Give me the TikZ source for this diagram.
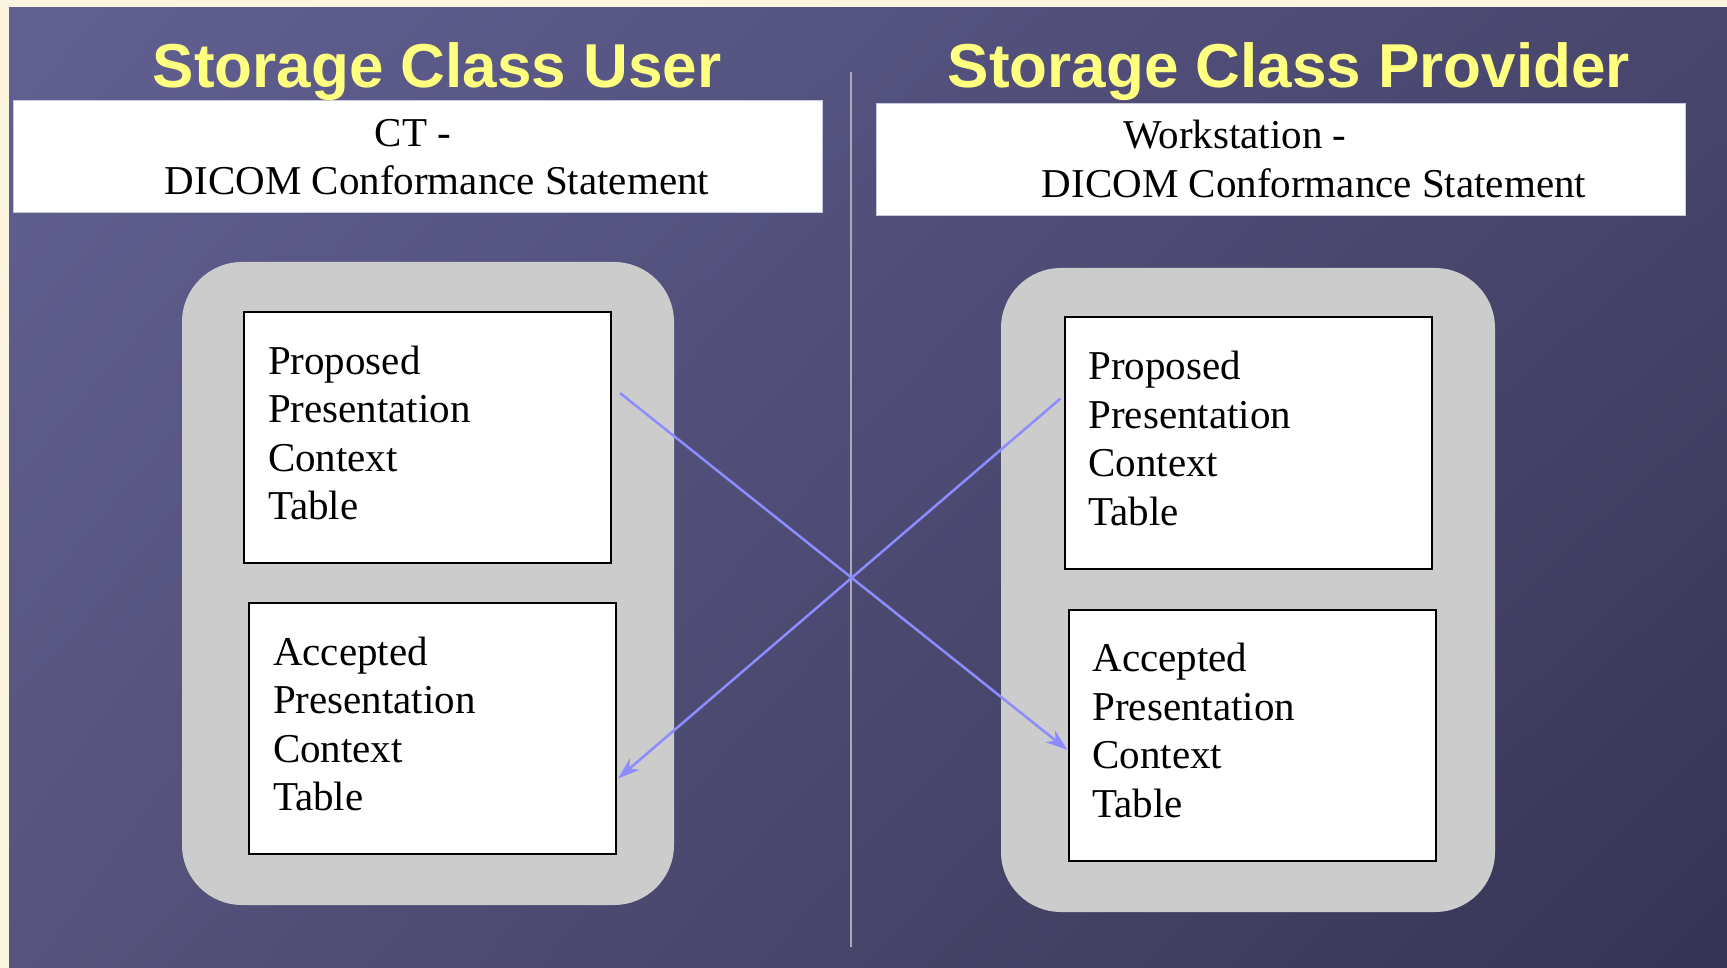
\documentclass[tikz,border=0pt]{standalone}
\usepackage{xcolor}
\usepackage{fontspec}
\setmainfont{Liberation Serif}
\newfontfamily\titlefont{Liberation Sans}
\usepackage{tikz}
\usetikzlibrary{arrows.meta, calc, shadings}

\definecolor{pagecream}{HTML}{FBF4DF}
\definecolor{bgul}{RGB}{98,96,147}
\definecolor{bgur}{RGB}{72,70,108}
\definecolor{bgll}{RGB}{86,83,124}
\definecolor{bglr}{RGB}{54,52,84}
\definecolor{titleyellow}{HTML}{FFFF80}
\definecolor{headerline}{HTML}{C8C8DC}
\definecolor{panelgray}{HTML}{CCCCCC}
\definecolor{dividergray}{HTML}{A9A9BB}
\definecolor{linkblue}{HTML}{8C8CFF}

% four-line table caption
\newcommand{\ctxtext}[1]{\begin{tabular}{@{}l@{}}#1\end{tabular}}

\begin{document}
\begin{tikzpicture}[x=1pt, y=-1pt,
    title/.style={font=\titlefont\bfseries\fontsize{62}{70}\selectfont, text=titleyellow, anchor=base, inner sep=0pt},
    header/.style={draw=headerline, fill=white, line width=1pt, minimum width=809pt, minimum height=112pt, inner sep=0pt},
    headertext/.style={font=\fontsize{41}{48}\selectfont, anchor=base, inner sep=0pt},
    panel/.style={fill=panelgray, rounded corners=60pt, inner sep=0pt},
    ctxtable/.style={draw=black, fill=white, line width=2pt, align=left, text width=319pt, inner xsep=24pt, minimum height=251pt, font=\fontsize{41}{48.5}\selectfont},
    link/.style={draw=linkblue, line width=2.5pt, -{Stealth[length=22pt, width=15pt, inset=7pt]}}]
    \useasboundingbox (0,0) rectangle (1727,968);
    % Slide background
    \fill[pagecream] (0,0) rectangle (1727,968);
    \shade[upper left=bgul, upper right=bgur, lower left=bgll, lower right=bglr]
        (9,8) rectangle (1727,968);
    % Divider
    \coordinate (divtop) at (851,72);
    \coordinate (divbot) at (851,947);
    \draw[dividergray, line width=2pt] (divtop) -- (divbot);
    % Titles
    \node[title] (usertitle) at (437,88) {Storage Class User};
    \node[title] (provtitle) at (1289,88) {Storage Class Provider};
    % Header boxes
    \node[header] (userhead) at (417.5,157) {};
    \node[header] (provhead) at (1280.5,160) {};
    \node[headertext] (userhead1) at (413,146.5) {CT -};
    \node[headertext] (userhead2) at (437,195) {DICOM Conformance Statement};
    \node[headertext] (provhead1) at (1235,148.5) {Workstation -};
    \node[headertext] (provhead2) at (1314,198) {DICOM Conformance Statement};
    % Gray panels
    \node[panel, minimum width=492pt, minimum height=643pt] (upanel) at (428,583.5) {};
    \node[panel, minimum width=494pt, minimum height=644pt] (ppanel) at (1248,590) {};
    % Context tables
    \node[ctxtable] (uprop) at (427.5,437.5) {\ctxtext{Proposed\\Presentation\\Context\\Table}};
    \node[ctxtable] (uacc) at (432.5,728.5) {\ctxtext{Accepted\\Presentation\\Context\\Table}};
    \node[ctxtable] (pprop) at (1248,443) {\ctxtext{Proposed\\Presentation\\Context\\Table}};
    \node[ctxtable] (pacc) at (1252,735) {\ctxtext{Accepted\\Presentation\\Context\\Table}};
    % Crossing links
    \draw[link] ($(uprop.north east)+(8,82)$) -- ($(pacc.west)+(0,15)$);
    \draw[link] ($(pprop.north west)+(-3,82)$) -- ($(uacc.east)+(1,50)$);
\end{tikzpicture}
\end{document}
